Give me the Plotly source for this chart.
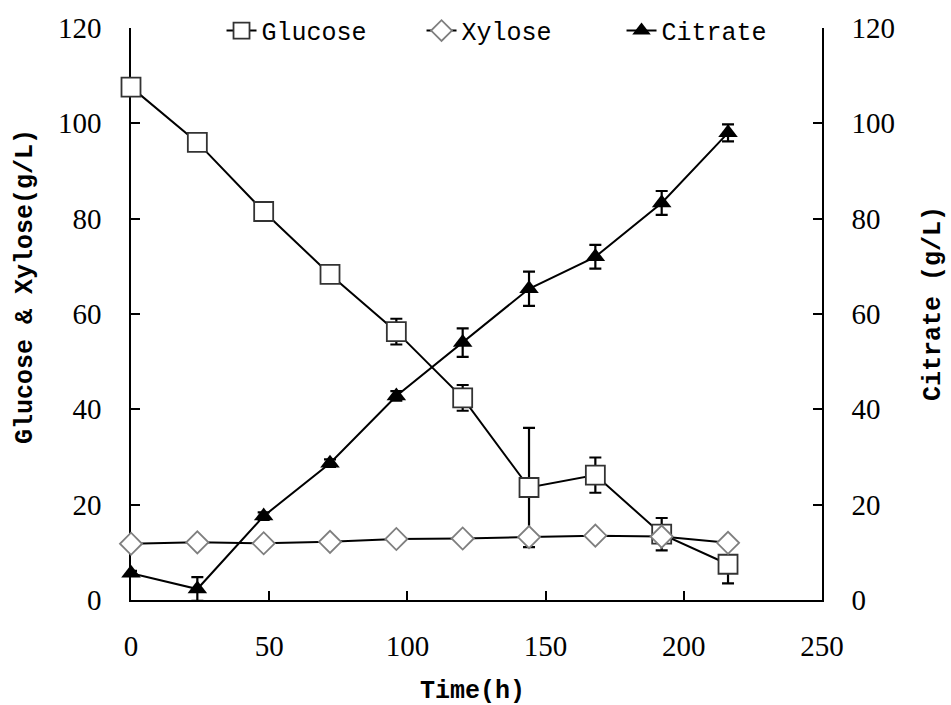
import plotly.graph_objects as go

time_h = [0, 24, 48, 72, 96, 120, 144, 168, 192, 216]
glucose = [107.6, 96.0, 81.5, 68.3, 56.3, 42.4, 23.6, 26.2, 13.8, 7.5]
glucose_err = [0.8, 0.8, 0.8, 0.8, 2.7, 2.7, 12.5, 3.7, 3.4, 4.0]
xylose = [11.8, 12.1, 11.9, 12.2, 12.8, 12.9, 13.2, 13.5, 13.3, 12.0]
citrate = [5.6, 2.3, 17.6, 28.7, 42.8, 54.0, 65.3, 72.0, 83.3, 98.0]
citrate_err = [0.5, 2.5, 0.8, 0.8, 1.0, 3.0, 3.6, 2.5, 2.5, 1.8]
x_ticks = [0, 50, 100, 150, 200, 250]
y_ticks = [0, 20, 40, 60, 80, 100, 120]

TICK_FONT = dict(family="Liberation Serif", size=29, color="black")
TITLE_FONT = dict(family="Liberation Mono", size=25, color="black")

fig = go.Figure()
fig.add_trace(go.Scatter(
    x=time_h, y=glucose, name="Glucose", mode="lines+markers", cliponaxis=False,
    line=dict(color="black", width=2),
    marker=dict(symbol="square", size=19, color="white", line=dict(color="#333", width=1.8)),
    error_y=dict(type="data", array=glucose_err, color="black", thickness=2.2, width=6)))
fig.add_trace(go.Scatter(
    x=time_h, y=xylose, name="Xylose", mode="lines+markers", cliponaxis=False,
    line=dict(color="black", width=2),
    marker=dict(symbol="diamond", size=17, color="white", line=dict(color="#7f7f7f", width=1.8))))
fig.add_trace(go.Scatter(
    x=time_h, y=citrate, name="Citrate", mode="lines+markers", yaxis="y2", cliponaxis=False,
    line=dict(color="black", width=2),
    marker=dict(symbol="triangle-up", size=17, color="black"),
    error_y=dict(type="data", array=citrate_err, color="black", thickness=2.2, width=6)))

axis_common = dict(
    showgrid=False, zeroline=False, showline=True, linecolor="black", linewidth=1.5,
    ticks="inside", ticklen=9, tickwidth=1.5, tickcolor="black",
    tickfont=TICK_FONT, layer="below traces")

fig.update_layout(
    width=951, height=705,
    margin=dict(l=131, r=129, t=28, b=105, autoexpand=False),
    plot_bgcolor="white", paper_bgcolor="white",
    xaxis=dict(range=[0, 250], tickvals=x_ticks, ticklabelstandoff=19, **axis_common),
    yaxis=dict(range=[0, 120], tickvals=y_ticks, ticklabelstandoff=22, **axis_common),
    yaxis2=dict(range=[0, 120], tickvals=y_ticks, overlaying="y", side="right",
                ticklabelstandoff=22, **axis_common),
    legend=dict(orientation="h", x=0.131, xanchor="left", y=0.995, yanchor="middle",
                font=dict(family="Liberation Mono", size=25, color="black"),
                bgcolor="rgba(0,0,0,0)", itemwidth=30, entrywidth=155,
                entrywidthmode="pixels"),
    showlegend=True,
    annotations=[
        dict(text="<b>Time(h)</b>", xref="paper", yref="paper", x=(472 - 131) / 691,
             y=-(691 - 600) / 572, xanchor="center", yanchor="middle",
             showarrow=False, font=TITLE_FONT),
        dict(text="<b>Glucose & Xylose(g/L)</b>", xref="paper", yref="paper",
             x=-(131 - 25) / 691, y=(600 - 287) / 572, xanchor="center", yanchor="middle",
             textangle=-90, showarrow=False, font=TITLE_FONT),
        dict(text="<b>Citrate (g/L)</b>", xref="paper", yref="paper",
             x=(933 - 131) / 691, y=(600 - 304) / 572, xanchor="center", yanchor="middle",
             textangle=-90, showarrow=False, font=TITLE_FONT),
    ],
)

fig.write_html("out.html")
